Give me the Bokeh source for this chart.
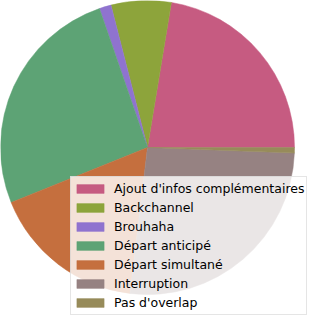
import math
from bokeh.plotting import figure
from bokeh.models import Range1d, Legend, LegendItem
from bokeh.embed import file_html
from bokeh.resources import INLINE

categories = ["Ajout d'infos complémentaires", "Backchannel", "Brouhaha",
              "Départ anticipé", "Départ simultané", "Interruption", "Pas d'overlap"]
values = [22.4, 6.6, 1.3, 25.8, 17.0, 26.3, 0.6]
colors = ["#c65b81", "#8da43b", "#8f73cf", "#5da375", "#c56f3e", "#968282", "#978b5a"]

W, H = 313, 315
p = figure(width=W, height=H, output_backend="svg", toolbar_location=None,
           x_range=Range1d(0, W), y_range=Range1d(0, H), min_border=0)
p.axis.visible = False
p.grid.visible = False
p.outline_line_color = None

total = sum(values)
starts, ends = [], []
acc = 0.0
for v in values:
    starts.append(2 * math.pi * acc / total)
    acc += v
    ends.append(2 * math.pi * acc / total)

cx, cy, r = 147, H - 147, 147
items = []
for name, s, e, c in zip(categories, starts, ends, colors):
    g = p.wedge(x=cx, y=cy, radius=r, start_angle=s, end_angle=e,
                direction="anticlock", fill_color=c, line_color=c, line_width=0.5)
    items.append(LegendItem(label=name, renderers=[g]))

legend = Legend(items=items, location=(70, 0), padding=2, spacing=0,
                glyph_width=34, glyph_height=11, label_height=19, label_standoff=7,
                label_text_font="DejaVu Sans", label_text_font_size="12.5px",
                label_text_color="#000000",
                background_fill_color="white", background_fill_alpha=0.8,
                border_line_color="#cccccc", border_line_width=1, margin=0)
p.add_layout(legend, "center")

open("out.html", "w").write(file_html(p, INLINE))
